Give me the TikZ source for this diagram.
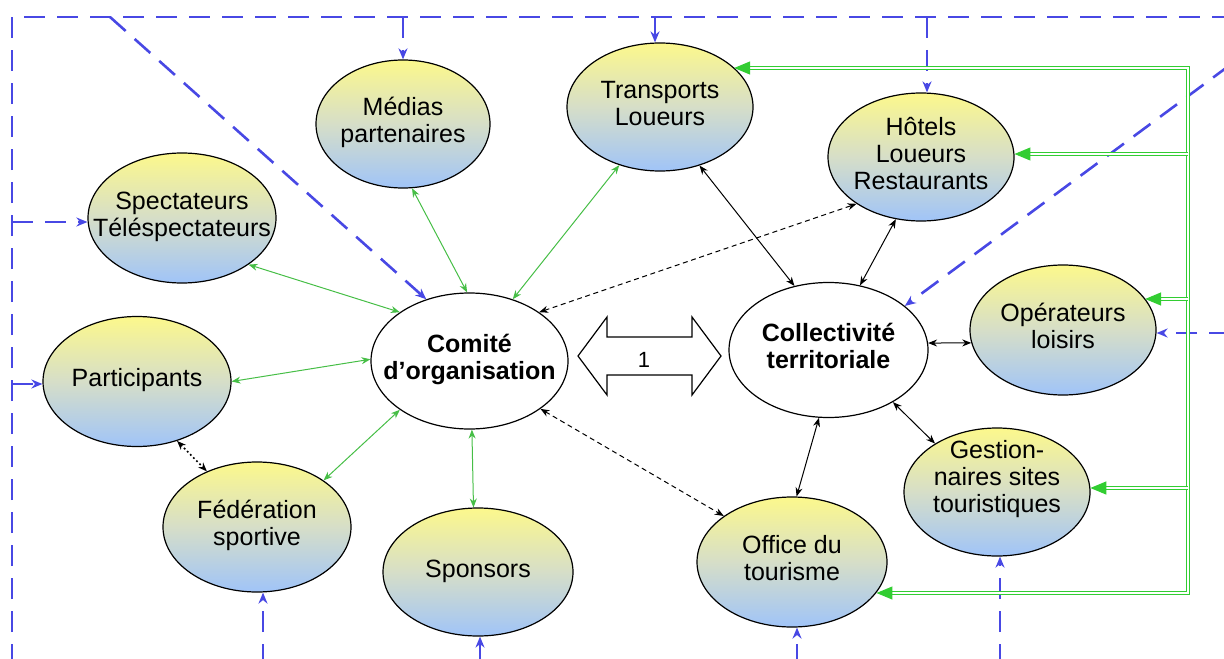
\documentclass[tikz,border=0pt]{standalone}
\usepackage{fontspec}
\setmainfont{Liberation Sans}
\usetikzlibrary{shapes.geometric,arrows.meta,calc}
\definecolor{bl}{RGB}{72,72,228}
\definecolor{gthin}{RGB}{70,190,70}
\definecolor{gdbl}{RGB}{50,205,50}
\definecolor{ytop}{RGB}{252,248,140}
\definecolor{ymid}{RGB}{214,222,200}
\definecolor{bbot}{RGB}{160,196,248}
\newcommand\tx[2][0pt]{\makebox[0pt]{\raisebox{#1}[\height][\depth]{\begin{tabular}{@{}c@{}}#2\end{tabular}}}}
\begin{document}
\begin{tikzpicture}[x=0.5pt,y=-0.5pt,
  bub/.style={ellipse, draw=black, line width=0.6pt, top color=ytop, bottom color=bbot, middle color=ymid, inner sep=0pt, font=\fontsize{12.5}{13.5}\selectfont},
  wbub/.style={ellipse, draw=black, line width=0.6pt, fill=white, inner sep=0pt, font=\bfseries\fontsize{12.5}{13.5}\selectfont},
  gt/.style={draw=gthin, line width=0.5pt, {Stealth[length=4.5pt,width=3.5pt]}-{Stealth[length=4.5pt,width=3.5pt]}},
  bk/.style={draw=black, line width=0.5pt, {Stealth[length=4.5pt,width=3.5pt]}-{Stealth[length=4.5pt,width=3.5pt]}},
  bkd/.style={bk, dash pattern=on 2.5pt off 1.8pt},
  bkdot/.style={bk, line width=0.8pt, dash pattern=on 0.9pt off 1.3pt},
  bd/.style={draw=bl, line width=1.3pt, dash pattern=on 10.5pt off 6pt},
  bda/.style={bd, -{Stealth[length=5.5pt,width=4.5pt]}},
  gd/.style={draw=gdbl, double=white, double distance=0.9pt, line width=0.6pt},
  gda/.style={gd, -{Triangle[length=8pt,width=6.5pt]}},
]
\useasboundingbox (0,0) rectangle (1224,658);
% nodes
\node[bub, minimum width=87pt, minimum height=64pt] (medias) at (403,124) {\tx{Médias\\partenaires}};
\node[bub, minimum width=93pt, minimum height=64pt] (transports) at (660,107) {\tx{Transports\\Loueurs}};
\node[bub, minimum width=93pt, minimum height=64pt] (hotels) at (921,157) {\tx{Hôtels\\Loueurs\\Restaurants}};
\node[bub, minimum width=94pt, minimum height=65pt] (spect) at (182,218) {\tx{Spectateurs\\Téléspectateurs}};
\node[bub, minimum width=94pt, minimum height=65pt] (partic) at (137,381.5) {\tx{Participants}};
\node[bub, minimum width=94pt, minimum height=65pt] (feder) at (257,527) {\tx{Fédération\\sportive}};
\node[bub, minimum width=95pt, minimum height=64pt] (sponsors) at (478,572) {\tx{Sponsors}};
\node[bub, minimum width=95pt, minimum height=65pt] (office) at (792,562) {\tx{Office du\\tourisme}};
\node[bub, minimum width=93pt, minimum height=64pt] (gestion) at (997,492) {\tx[6pt]{Gestion-\\naires sites\\touristiques}};
\node[bub, minimum width=93pt, minimum height=65pt] (operat) at (1063,330) {\tx{Opérateurs\\loisirs}};
\node[wbub, minimum width=98.5pt, minimum height=68pt] (comite) at (469.5,361) {\tx{Comité\\d’organisation}};
\node[wbub, minimum width=99.5pt, minimum height=67.5pt] (collect) at (828.5,350) {\tx{Collectivité\\territoriale}};
% big double arrow
\draw[line width=0.6pt, fill=white] (578,356) -- (607,317) -- (607,337) -- (692,337) -- (692,317) -- (721,356) -- (692,395) -- (692,375) -- (607,375) -- (607,395) -- cycle;
\node[font=\fontsize{11}{12}\selectfont] (one) at (644,360) {1};
% green thin
\draw[gt] (comite.92) -- (medias.-82);
\draw[gt] (comite.55) -- (transports.235);
\draw[gt] (comite.145) -- (spect.-35);
\draw[gt] (comite.179) -- (partic.0);
\draw[gt] (comite.215) -- (feder.35);
\draw[gt] (comite.-88) -- (sponsors.94);
% black
\draw[bk] (collect.118) -- (transports.-56);
\draw[bk] (collect.64) -- (hotels.-112);
\draw[bk] (collect.4) -- (operat.188);
\draw[bk] (collect.-39) -- (gestion.142);
\draw[bk] (collect.-98) -- (office.86);
\draw[bkd] (comite.35) -- (hotels.216);
\draw[bkd] (comite.-34) -- (office.146);
\draw[bkdot] (partic.-56) -- (feder.132);
% blue dashed frame and arrows
\coordinate (fbl) at (12,665);
\coordinate (ftl) at (12,17);
\coordinate (ftr) at (1230,17);
\draw[bd] (fbl) -- (ftl) -- (ftr);
\coordinate (tl) at (110,17);
\draw[bda] (tl) -- (comite.125);
\coordinate (tm) at (403,17);
\draw[bda] (tm) -- (tm |- medias.north);
\coordinate (tt) at (655,17);
\draw[bda] (tt) -- (tt |- transports.north);
\coordinate (th) at (927,17);
\draw[bda] (th) -- (th |- hotels.north);
\coordinate (ls) at (12,222);
\draw[bda] (ls) -- (ls -| spect.west);
\coordinate (lp) at (12,384);
\draw[bda] (lp) -- (lp -| partic.west);
\coordinate (ro) at (1230,333);
\draw[bda] (ro) -- (ro -| operat.east);
\coordinate (tr) at (1230,65);
\draw[bda] (tr) -- (collect.30);
\coordinate (bf) at (263,665);
\draw[bda] (bf) -- (bf |- feder.south);
\coordinate (bs) at (480,665);
\draw[bda] (bs) -- (bs |- sponsors.south);
\coordinate (bo) at (797,665);
\draw[bda] (bo) -- (bo |- office.south);
\coordinate (bg) at (1000,665);
\draw[bda] (bg) -- (bg |- gestion.south);
% green double tree
\coordinate (gA) at (1188,68);
\coordinate (gB) at (1188,593);
\coordinate (g2) at (1188,154);
\coordinate (g3) at (1188,299);
\coordinate (g4) at (1188,488);
\draw[gd, {Triangle[length=8pt,width=6.5pt]}-{Triangle[length=8pt,width=6.5pt]}] (gB -| office.-20) -- (gB) -- (gA) -- (gA -| transports.28);
\draw[gda] (g2) -- (g2 -| hotels.2);
\draw[gda] (g3) -- (g3 -| operat.21);
\draw[gda] (g4) -- (g4 -| gestion.3);
\end{tikzpicture}
\end{document}
